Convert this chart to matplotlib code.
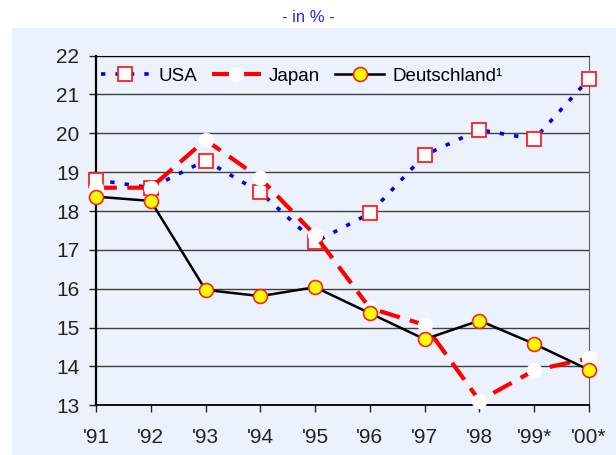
import numpy as np
import matplotlib.pyplot as plt
from matplotlib.patches import Rectangle

# Daten
jahre = ["'91", "'92", "'93", "'94", "'95", "'96", "'97", "'98", "'99*", "'00*"]
usa = [18.8, 18.6, 19.3, 18.48, 17.2, 17.94, 19.44, 20.09, 19.85, 21.4]
japan = [18.6, 18.6, 19.83, 18.84, 17.38, 15.5, 15.07, 13.12, 13.9, 14.21]
deutschland = [18.37, 18.26, 15.97, 15.81, 16.04, 15.37, 14.7, 15.18, 14.58, 13.91]

plt.rcParams['font.family'] = ['Liberation Sans', 'DejaVu Sans']

bg = '#ECF2FD'
fig = plt.figure(figsize=(6.16, 4.55), dpi=100)
fig.patches.append(Rectangle((12/616, 0), 1, 1 - 28/455, transform=fig.transFigure,
                             facecolor=bg, edgecolor='none', zorder=-1))
fig.text(0.5, 1 - 18/455, '- in % -', color='#2A2AF0', fontsize=12,
         ha='center', va='center')

ax = fig.add_axes([96/616, 1 - 405.3/455, (589-96)/616, (405.3-55.6)/455])
ax.set_zorder(2)
ax.set_facecolor(bg)
x = np.arange(len(jahre))

ax.plot(x, usa, color='#0000EE', lw=2.6, linestyle=(0, (1.2, 2.8)),
        marker='s', ms=10, mfc='white', mec='#FF2020', mew=1.3,
        label='USA', clip_on=False, zorder=3)
ax.plot(x, japan, color='#FF0000', lw=3, linestyle=(0, (5, 2.5)),
        marker='o', ms=10, mfc='white', mec='white',
        label='Japan', clip_on=False, zorder=4)
ax.plot(x, deutschland, color='black', lw=1.8,
        marker='o', ms=10, mfc='#FFFF00', mec='#FF2020', mew=1.2,
        label='Deutschland¹', clip_on=False, zorder=5)

ax.set_xlim(0, 9)
ax.set_ylim(13, 22)
ax.set_yticks(range(13, 23))
ax.set_xticks(x)
ax.set_xticklabels(jahre)
ax.grid(axis='y', color='#404040', lw=1)
ax.set_axisbelow(True)

for s in ['left', 'bottom', 'top']:
    ax.spines[s].set_color('black')
ax.spines['left'].set_linewidth(1.6)
ax.spines['bottom'].set_linewidth(1.3)
ax.spines['right'].set_color('#606060')
ax.tick_params(axis='both', labelsize=15, colors='#222222', length=5, width=1)
ax.tick_params(axis='x', pad=11)
ax.tick_params(axis='y', pad=7)

ax.legend(loc='center left', bbox_to_anchor=(-0.005, 1 - 20.5/350), ncol=3,
          frameon=False, fontsize=13.5, handlelength=2.6, columnspacing=0.8,
          handletextpad=0.45, borderaxespad=0)

fig.savefig('out.png', dpi=100)
